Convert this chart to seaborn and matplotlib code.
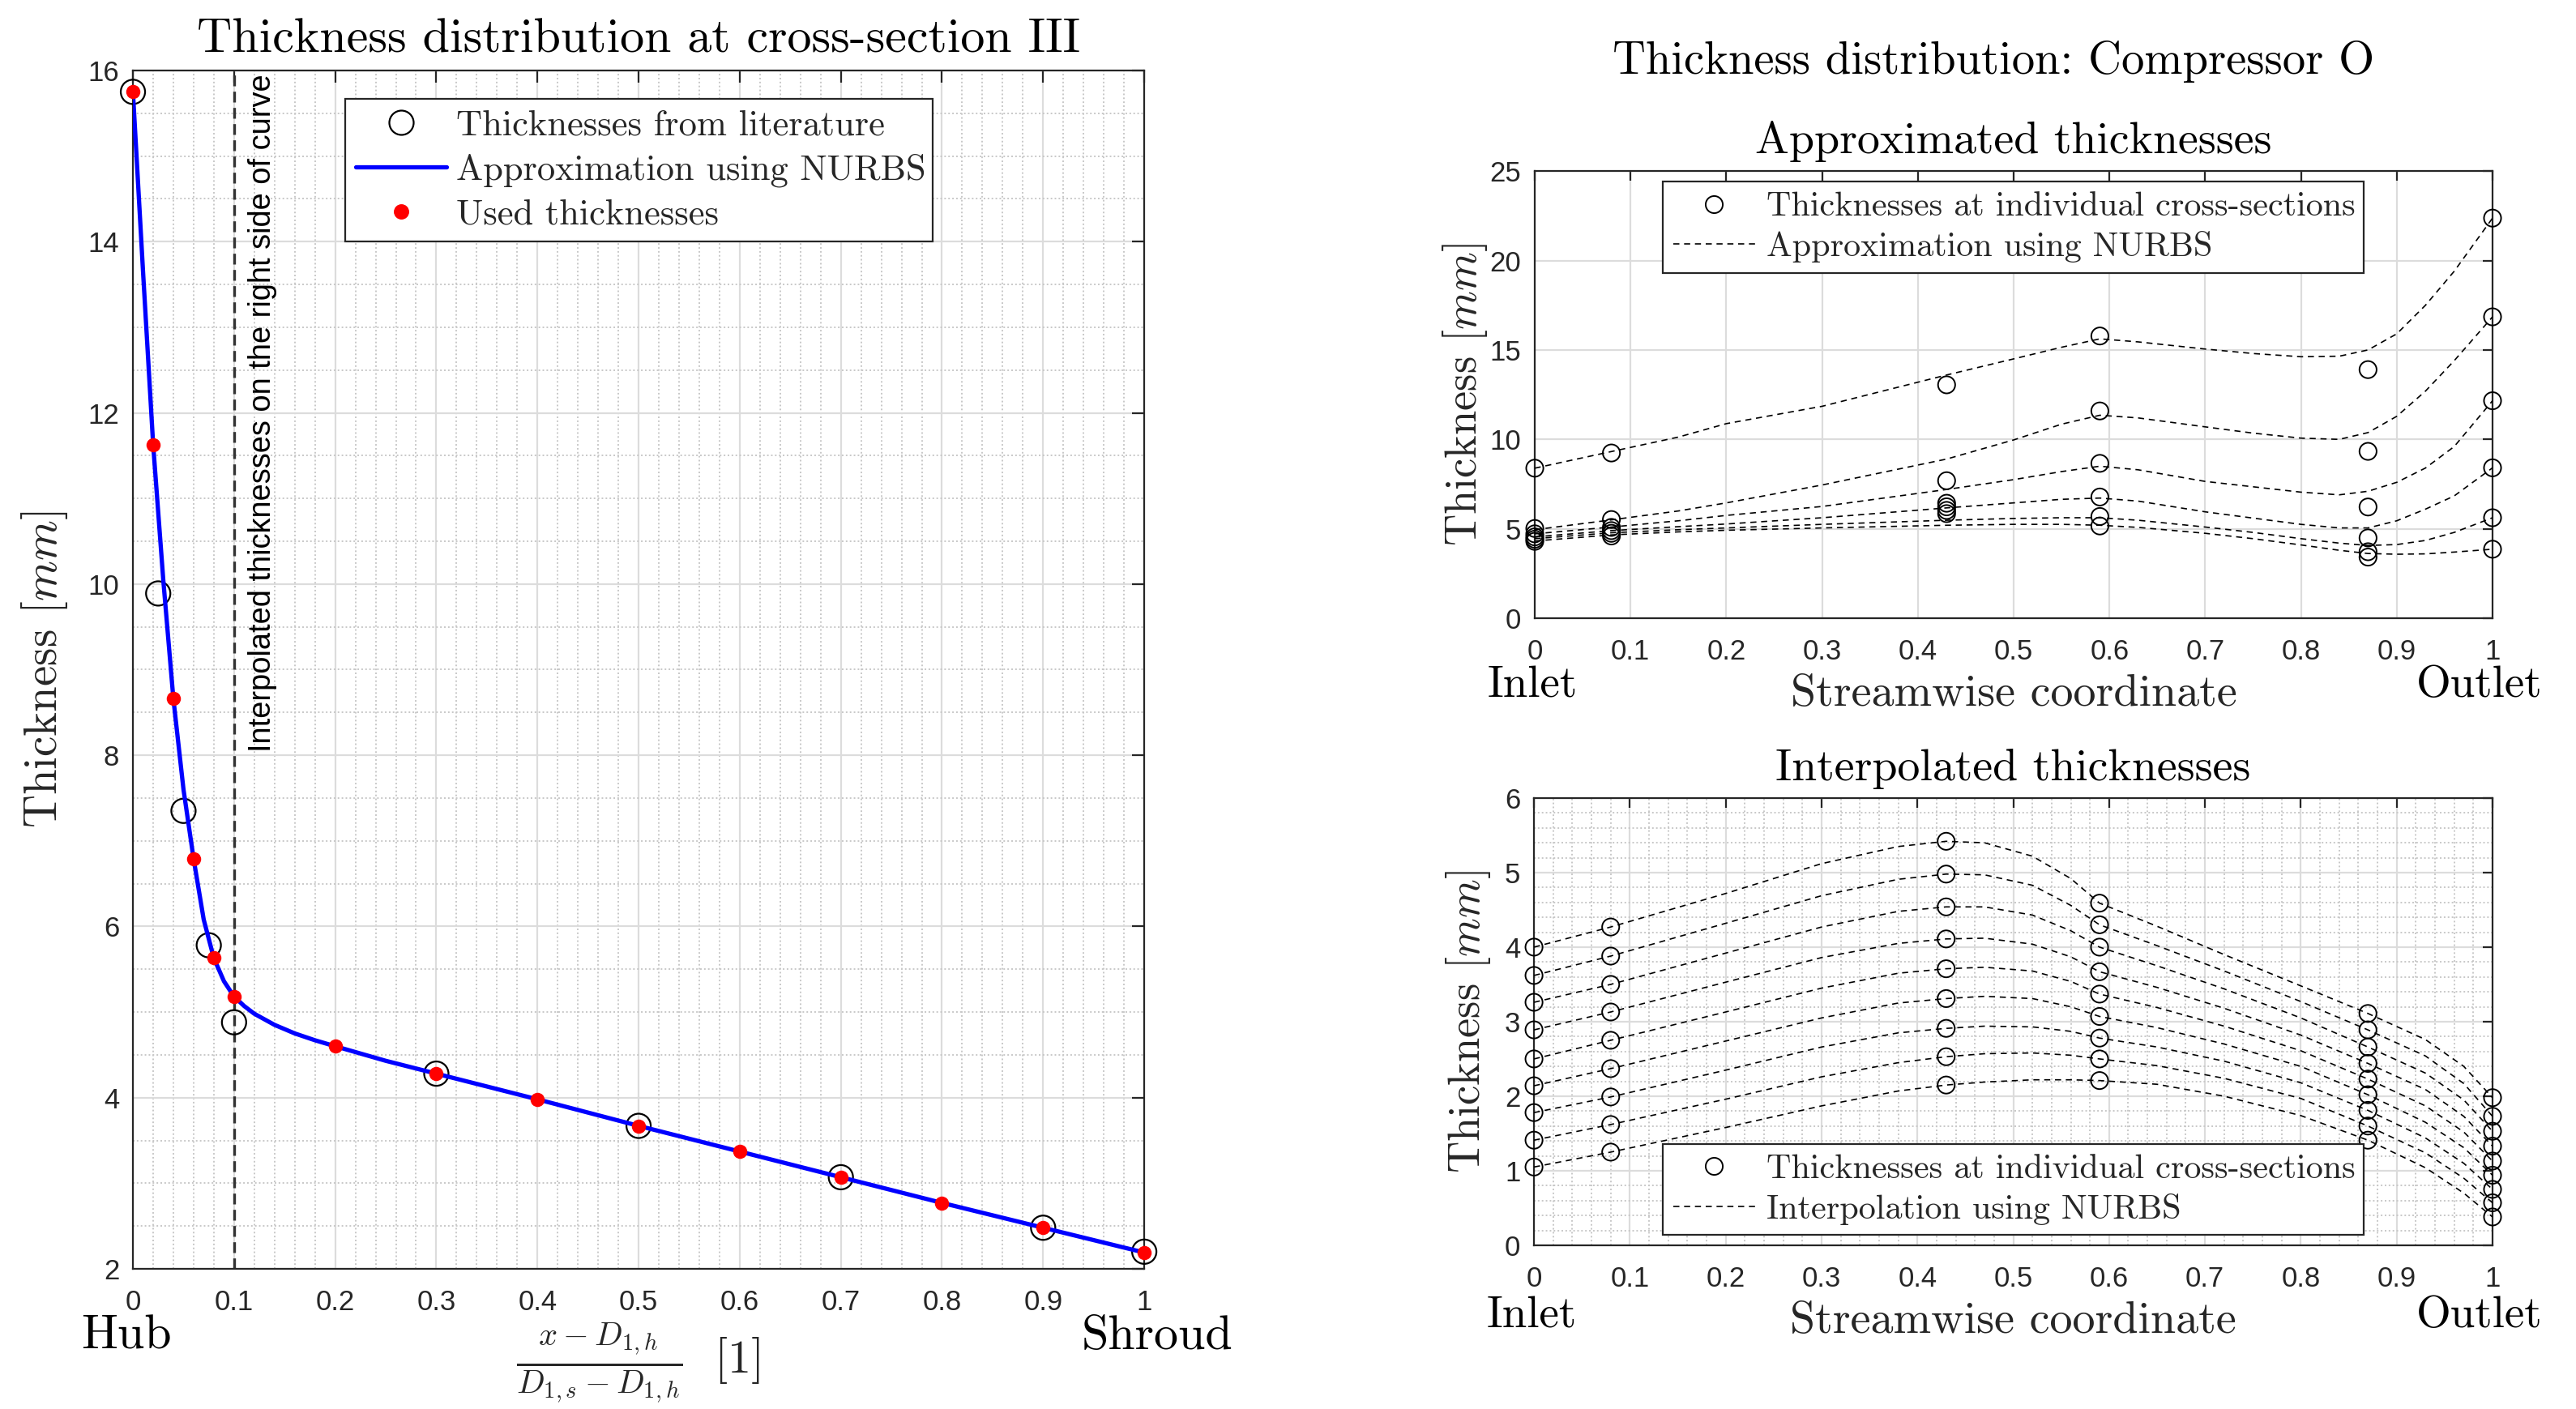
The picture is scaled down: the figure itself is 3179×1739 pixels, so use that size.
import numpy as np
import pandas as pd
import matplotlib
matplotlib.use("Agg")
import matplotlib.pyplot as plt
import seaborn as sns
from matplotlib.lines import Line2D
from matplotlib.ticker import MultipleLocator, FuncFormatter

# ---------------- data: left panel (cross-section III) ----------------
lit_x = [0, 0.025, 0.05, 0.075, 0.1, 0.3, 0.5, 0.7, 0.9, 1.0]
lit_t = [15.75, 9.89, 7.35, 5.78, 4.88, 4.28, 3.67, 3.07, 2.48, 2.20]
used_x = [0, 0.02, 0.04, 0.06, 0.08, 0.1, 0.2, 0.3, 0.4, 0.5, 0.6, 0.7, 0.8, 0.9, 1.0]
used_t = [15.75, 11.63, 8.66, 6.79, 5.63, 5.18, 4.60, 4.28, 3.98, 3.67, 3.37, 3.07, 2.77, 2.48, 2.19]
nurbs_x = [0, 0.01, 0.02, 0.03, 0.04, 0.05, 0.06, 0.07, 0.08, 0.09, 0.1, 0.11, 0.12,
           0.14, 0.16, 0.18, 0.2, 0.25, 0.3, 0.4, 0.5, 0.6, 0.7, 0.8, 0.9, 1.0]
nurbs_t = [15.75, 13.65, 11.63, 10.05, 8.66, 7.60, 6.79, 6.08, 5.63, 5.36, 5.18, 5.07, 4.98,
           4.85, 4.75, 4.67, 4.60, 4.43, 4.28, 3.98, 3.67, 3.37, 3.07, 2.77, 2.48, 2.19]
interp_limit_x = 0.1

# ---------------- data: right panels (Compressor O) ----------------
sections = [0, 0.08, 0.43, 0.59, 0.87, 1.0]

# approximated thicknesses: circles per cross-section
appr_circ_000 = [8.39, 5.02, 4.72, 4.55, 4.42, 4.30]
appr_circ_008 = [9.24, 5.52, 5.08, 4.90, 4.75, 4.60]
appr_circ_043 = [13.05, 7.69, 6.43, 6.23, 6.03, 5.85]
appr_circ_059 = [15.78, 11.59, 8.66, 6.78, 5.69, 5.16]
appr_circ_087 = [13.90, 9.33, 6.22, 4.49, 3.72, 3.42]
appr_circ_100 = [22.37, 16.85, 12.16, 8.41, 5.62, 3.86]

appr_x = [0, 0.08, 0.15, 0.2, 0.3, 0.43, 0.5, 0.55, 0.59, 0.63, 0.7, 0.75, 0.8, 0.84, 0.87, 0.9, 0.93, 0.96, 1.0]
appr_1 = [8.39, 9.32, 10.13, 10.88, 11.85, 13.6, 14.5, 15.15, 15.62, 15.45, 15.05, 14.8, 14.62, 14.65, 15.0, 15.9, 17.5, 19.4, 22.37]
appr_2 = [4.95, 5.50, 6.0, 6.45, 7.45, 8.9, 9.97, 10.85, 11.35, 11.2, 10.7, 10.35, 10.07, 10.0, 10.38, 11.29, 12.7, 14.4, 16.85]
appr_3 = [4.72, 5.10, 5.45, 5.75, 6.25, 7.2, 7.75, 8.2, 8.5, 8.3, 7.65, 7.35, 7.05, 6.9, 7.1, 7.6, 8.4, 9.6, 12.16]
appr_4 = [4.55, 4.90, 5.12, 5.27, 5.62, 6.17, 6.45, 6.65, 6.72, 6.55, 5.95, 5.6, 5.25, 5.05, 5.05, 5.45, 6.1, 6.84, 8.41]
appr_5 = [4.45, 4.78, 4.95, 5.05, 5.25, 5.48, 5.58, 5.62, 5.62, 5.48, 5.1, 4.8, 4.45, 4.2, 4.07, 4.12, 4.35, 4.8, 5.62]
appr_6 = [4.32, 4.66, 4.83, 4.92, 5.05, 5.2, 5.25, 5.25, 5.2, 5.08, 4.75, 4.45, 4.1, 3.8, 3.62, 3.58, 3.6, 3.7, 3.86]

# interpolated thicknesses: circles per cross-section
intp_circ_000 = [4.00, 3.62, 3.26, 2.89, 2.50, 2.14, 1.78, 1.41, 1.05]
intp_circ_008 = [4.27, 3.88, 3.50, 3.13, 2.75, 2.37, 1.99, 1.62, 1.25]
intp_circ_043 = [5.42, 4.98, 4.54, 4.11, 3.71, 3.31, 2.91, 2.53, 2.15]
intp_circ_059 = [4.59, 4.30, 4.00, 3.67, 3.37, 3.07, 2.78, 2.50, 2.21]
intp_circ_087 = [3.11, 2.89, 2.66, 2.44, 2.23, 2.02, 1.81, 1.60, 1.41]
intp_circ_100 = [1.98, 1.73, 1.53, 1.33, 1.13, 0.94, 0.75, 0.57, 0.38]

intp_x = [0, 0.08, 0.2, 0.3, 0.38, 0.43, 0.47, 0.52, 0.56, 0.59, 0.65, 0.72, 0.8, 0.87, 0.93, 0.97, 1.0]
intp_1 = [4.00, 4.27, 4.72, 5.12, 5.35, 5.42, 5.40, 5.22, 4.92, 4.59, 4.28, 3.90, 3.48, 3.11, 2.76, 2.40, 1.98]
intp_2 = [3.62, 3.88, 4.32, 4.69, 4.91, 4.98, 4.97, 4.83, 4.56, 4.30, 4.02, 3.68, 3.27, 2.89, 2.54, 2.17, 1.73]
intp_3 = [3.26, 3.50, 3.92, 4.27, 4.48, 4.54, 4.54, 4.43, 4.22, 4.00, 3.75, 3.44, 3.05, 2.66, 2.31, 1.95, 1.53]
intp_4 = [2.89, 3.13, 3.53, 3.86, 4.05, 4.11, 4.12, 4.04, 3.87, 3.67, 3.46, 3.18, 2.82, 2.44, 2.09, 1.73, 1.33]
intp_5 = [2.50, 2.75, 3.13, 3.45, 3.65, 3.71, 3.73, 3.68, 3.54, 3.37, 3.19, 2.94, 2.61, 2.23, 1.87, 1.52, 1.13]
intp_6 = [2.14, 2.37, 2.74, 3.05, 3.25, 3.31, 3.34, 3.31, 3.20, 3.07, 2.92, 2.70, 2.40, 2.02, 1.65, 1.31, 0.94]
intp_7 = [1.78, 1.99, 2.35, 2.66, 2.85, 2.91, 2.94, 2.93, 2.87, 2.78, 2.66, 2.47, 2.18, 1.81, 1.44, 1.10, 0.75]
intp_8 = [1.41, 1.62, 1.96, 2.26, 2.45, 2.53, 2.57, 2.58, 2.55, 2.50, 2.41, 2.24, 1.97, 1.60, 1.24, 0.90, 0.57]
intp_9 = [1.05, 1.25, 1.58, 1.87, 2.07, 2.15, 2.19, 2.22, 2.22, 2.21, 2.16, 2.00, 1.74, 1.41, 1.04, 0.70, 0.38]

# ---------------- style ----------------
sns.set_theme(style="white")
plt.rcParams["font.family"] = ["Liberation Sans", "DejaVu Sans"]
plt.rcParams["mathtext.fontset"] = "cm"
plt.rcParams["axes.unicode_minus"] = False

CM = "cmr10"
AXC = "#262626"
GRID_MAJ = "#dcdcdc"
GRID_MIN = "#c8c8c8"
DASH = (0, (4.5, 3.5))

fig = plt.figure(figsize=(15.895, 8.695), dpi=200)
ax_l = fig.add_axes([0.0516, 0.0995, 0.3926, 0.8505])
ax_a = fig.add_axes([0.5958, 0.5612, 0.3718, 0.3174])
ax_i = fig.add_axes([0.5955, 0.1162, 0.3721, 0.3174])

fmt = FuncFormatter(lambda v, p: f"{v:g}")


def style_axes(ax, ticklen, minor):
    ax.set_facecolor("white")
    for s in ax.spines.values():
        s.set_color(AXC)
        s.set_linewidth(0.8)
        s.set_visible(True)
    ax.tick_params(which="major", direction="in", top=True, right=True,
                   length=ticklen, width=0.8, color=AXC, labelcolor=AXC,
                   labelsize=12.5)
    ax.tick_params(axis="x", which="major", pad=9)
    ax.tick_params(axis="y", which="major", pad=6)
    ax.tick_params(which="minor", length=0, top=False, right=False)
    ax.xaxis.set_major_formatter(fmt)
    ax.yaxis.set_major_formatter(fmt)
    ax.set_axisbelow(True)
    ax.grid(True, which="major", color=GRID_MAJ, lw=0.8, ls="-")
    if minor:
        ax.grid(True, which="minor", color=GRID_MIN, lw=0.7, ls=(0, (1, 1.5)))
    for lab in ax.get_xticklabels() + ax.get_yticklabels():
        lab.set_fontfamily(["Liberation Sans", "DejaVu Sans"])


# ---------------- left panel ----------------
ax = ax_l
sns.scatterplot(x=lit_x, y=lit_t, ax=ax, marker="o", s=10.8 ** 2,
                facecolor="none", edgecolor="black", linewidth=0.8, zorder=3,
                clip_on=False)
sns.lineplot(x=nurbs_x, y=nurbs_t, ax=ax, color="blue", lw=1.9, zorder=4)
sns.scatterplot(x=used_x, y=used_t, ax=ax, marker="o", s=5.8 ** 2,
                color="red", edgecolor="red", linewidth=0.5, zorder=5,
                clip_on=False)
ax.axvline(interp_limit_x, color="#333333", lw=1.2, ls=(0, (4.0, 2.0)), zorder=2)
ax.set_xlim(0, 1)
ax.set_ylim(2, 16)
ax.xaxis.set_major_locator(MultipleLocator(0.1))
ax.xaxis.set_minor_locator(MultipleLocator(0.02))
ax.yaxis.set_major_locator(MultipleLocator(2))
ax.yaxis.set_minor_locator(MultipleLocator(0.5))
style_axes(ax, 5.3, True)
ax.set_title("Thickness distribution at cross-section III", fontfamily=CM,
             fontsize=21.6, color="black", pad=8)
ax.set_ylabel("Thickness $[mm]$", fontfamily=CM, fontsize=20.5, color=AXC)
ax.yaxis.set_label_coords(-0.0625, 0.5)
ax.set_xlabel(r"$\frac{x-D_{1,h}}{D_{1,s}-D_{1,h}}\ \ [1]$", fontsize=21, color=AXC)
ax.xaxis.set_label_coords(0.5, -0.0784)
ax.xaxis.label.set_va("center")
ax.text(0.114, 8.04, "Interpolated thicknesses on the right side of curve",
        rotation=90, ha="left", va="bottom", fontsize=13.7, color="black",
        fontfamily=["Liberation Sans", "DejaVu Sans"])
ax.annotate("Hub", xy=(0, 0), xycoords=("data", "axes fraction"),
            xytext=(-2.9, -35.6), textcoords="offset points", ha="center",
            va="baseline", fontfamily=CM, fontsize=21.6, color="black",
            annotation_clip=False)
ax.annotate("Shroud", xy=(1, 0), xycoords=("data", "axes fraction"),
            xytext=(5.8, -35.6), textcoords="offset points", ha="center",
            va="baseline", fontfamily=CM, fontsize=21.6, color="black",
            annotation_clip=False)
h_l = [Line2D([], [], ls="none", marker="o", ms=10.8, mfc="none", mec="black", mew=0.8),
       Line2D([], [], color="blue", lw=1.9),
       Line2D([], [], ls="none", marker="o", ms=5.8, mfc="red", mec="red")]
leg = ax.legend(h_l, ["Thicknesses from literature", "Approximation using NURBS",
                      "Used thicknesses"],
                loc="upper left", bbox_to_anchor=(0.21, 0.976, 0.581, 0.0),
                mode="expand", borderaxespad=0, prop={"family": CM, "size": 16},
                handlelength=2.5, handletextpad=0.27, borderpad=0.3,
                labelspacing=0.31, fancybox=False, framealpha=1, edgecolor=AXC)
leg.get_frame().set_linewidth(0.8)

# ---------------- right panels ----------------
def circles_df(cols):
    rows = []
    for xs, vals in zip(sections, cols):
        for v in vals:
            rows.append((xs, v))
    return pd.DataFrame(rows, columns=["x", "t"])


def curves_df(xs, curves):
    rows = []
    for k, c in enumerate(curves):
        for xv, tv in zip(xs, c):
            rows.append((k, xv, tv))
    return pd.DataFrame(rows, columns=["curve", "x", "t"])


panels = [
    (ax_a, [appr_circ_000, appr_circ_008, appr_circ_043, appr_circ_059, appr_circ_087, appr_circ_100],
     appr_x, [appr_1, appr_2, appr_3, appr_4, appr_5, appr_6],
     "Approximated thicknesses", "Approximation using NURBS", (0, 25), 5, None,
     (0.1337, 0.9764), -0.047, -35.0),
    (ax_i, [intp_circ_000, intp_circ_008, intp_circ_043, intp_circ_059, intp_circ_087, intp_circ_100],
     intp_x, [intp_1, intp_2, intp_3, intp_4, intp_5, intp_6, intp_7, intp_8, intp_9],
     "Interpolated thicknesses", "Interpolation using NURBS", (0, 6), 1, 0.2,
     (0.1344, 0.2264), -0.043, -36.4),
]

for ax, circ, cx, curves, title, lname, ylim, ymaj, ymin, lpos, ylx, inl_off in panels:
    dfc = circles_df(circ)
    dfl = curves_df(cx, curves)
    sns.scatterplot(data=dfc, x="x", y="t", ax=ax, marker="o", s=7.6 ** 2,
                    facecolor="none", edgecolor="black", linewidth=0.7, zorder=3,
                    clip_on=False)
    sns.lineplot(data=dfl, x="x", y="t", units="curve", estimator=None, ax=ax,
                 color="black", lw=0.6, legend=False, zorder=4)
    for ln in ax.lines:
        ln.set_linestyle(DASH)
    ax.set_xlim(0, 1)
    ax.set_ylim(*ylim)
    ax.xaxis.set_major_locator(MultipleLocator(0.1))
    ax.yaxis.set_major_locator(MultipleLocator(ymaj))
    if ymin is not None:
        ax.xaxis.set_minor_locator(MultipleLocator(0.02))
        ax.yaxis.set_minor_locator(MultipleLocator(ymin))
    style_axes(ax, 4.2, ymin is not None)
    ax.set_title(title, fontfamily=CM, fontsize=20.1, color="black", pad=8)
    ax.set_ylabel("Thickness $[mm]$", fontfamily=CM, fontsize=19.6, color=AXC)
    ax.yaxis.set_label_coords(ylx, 0.5)
    ax.set_xlabel("Streamwise coordinate", fontfamily=CM, fontsize=20.2, color=AXC)
    ax.xaxis.set_label_coords(0.5, -0.1957)
    ax.xaxis.label.set_va("baseline")
    ax.annotate("Inlet", xy=(0, 0), xycoords=("data", "axes fraction"),
                xytext=(-1.1, inl_off), textcoords="offset points", ha="center",
                va="baseline", fontfamily=CM, fontsize=19.8, color="black",
                annotation_clip=False)
    ax.annotate("Outlet", xy=(1, 0), xycoords=("data", "axes fraction"),
                xytext=(-5.8, inl_off), textcoords="offset points", ha="center",
                va="baseline", fontfamily=CM, fontsize=19.8, color="black",
                annotation_clip=False)
    hh = [Line2D([], [], ls="none", marker="o", ms=7.6, mfc="none", mec="black", mew=0.7),
          Line2D([], [], color="black", lw=0.6, ls=DASH)]
    lg = ax.legend(hh, ["Thicknesses at individual cross-sections", lname],
                   loc="upper left", bbox_to_anchor=(lpos[0], lpos[1], 0.7315, 0.0),
                   mode="expand", borderaxespad=0, prop={"family": CM, "size": 15.2},
                   handlelength=2.4, handletextpad=0.33, borderpad=0.3,
                   labelspacing=0.25, fancybox=False, framealpha=1, edgecolor=AXC)
    lg.get_frame().set_linewidth(0.8)

fig.text(2460 / 3179, 1 - 91 / 1739, "Thickness distribution: Compressor O",
         ha="center", va="baseline", fontfamily=CM, fontsize=20.4, color="black")

fig.savefig("out.png", dpi=200, facecolor="white")
